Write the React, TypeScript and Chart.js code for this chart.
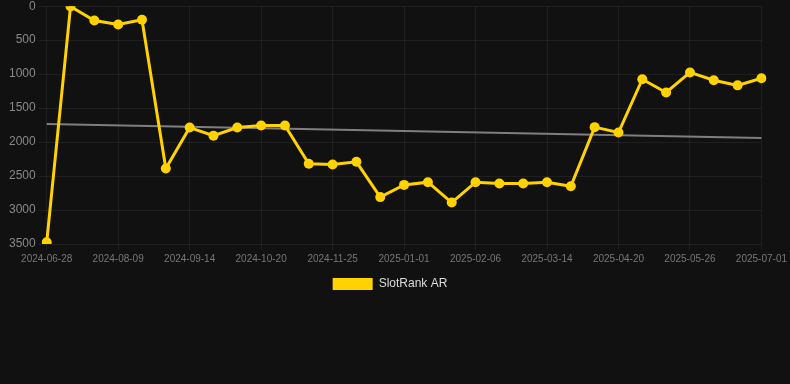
import React, { useEffect, useRef } from "react";
import { Chart, registerables } from "chart.js";

Chart.register(...registerables);

const labels: string[] = [
  "2024-06-28", "2024-07-12", "2024-07-26", "2024-08-09", "2024-08-21", "2024-09-02",
  "2024-09-14", "2024-09-26", "2024-10-08", "2024-10-20", "2024-11-01", "2024-11-13",
  "2024-11-25", "2024-12-07", "2024-12-19", "2025-01-01", "2025-01-13", "2025-01-25",
  "2025-02-06", "2025-02-18", "2025-03-02", "2025-03-14", "2025-03-26", "2025-04-08",
  "2025-04-20", "2025-05-02", "2025-05-14", "2025-05-26", "2025-06-07", "2025-06-19",
  "2025-07-01",
];

const slotRankAR: number[] = [
  3475, 5, 210, 270, 200, 2390, 1785, 1905, 1785, 1755, 1755, 2320,
  2330, 2290, 2810, 2630, 2590, 2890, 2590, 2610, 2610, 2590, 2650, 1780,
  1860, 1075, 1270, 975, 1090, 1165, 1060,
];

const trendStart = 1735;
const trendEnd = 1940;
const trendValues: (number | null)[] = labels.map((_, i) =>
  i === 0 ? trendStart : i === labels.length - 1 ? trendEnd : null
);

const yTicksMin = 0;
const yTicksMax = 3500;
const yStep = 500;

export default function App() {
  const ref = useRef<HTMLCanvasElement | null>(null);

  useEffect(() => {
    document.body.style.margin = "0";
    document.body.style.background = "#111111";
    Chart.defaults.font.family = "'Liberation Sans', Arial, Helvetica, sans-serif";
    const canvas = ref.current;
    if (!canvas) return;
    const yellow = "#FFD200";
    const chart = new Chart(canvas, {
      type: "line",
      data: {
        labels,
        datasets: [
          {
            label: "SlotRank AR",
            data: slotRankAR,
            borderColor: yellow,
            backgroundColor: yellow,
            borderWidth: 3,
            pointRadius: 5,
            pointBorderWidth: 0,
            pointBackgroundColor: yellow,
            tension: 0,
          },
          {
            label: "Trend",
            data: trendValues,
            borderColor: "rgba(140,140,140,0.9)",
            backgroundColor: "rgba(140,140,140,0.9)",
            borderWidth: 2,
            pointRadius: 0,
            spanGaps: true,
          },
        ],
      },
      options: {
        responsive: false,
        animation: false,
        maintainAspectRatio: false,
        layout: { padding: { left: 6, right: 16, top: 0, bottom: 0 } },
        plugins: {
          tooltip: { enabled: false },
          legend: {
            position: "bottom",
            labels: {
              color: "#dddddd",
              font: { size: 12 },
              boxWidth: 40,
              boxHeight: 12,
              filter: (item: any) => item.text === "SlotRank AR",
              generateLabels: (c: any) => {
                const items = Chart.defaults.plugins.legend.labels.generateLabels(c);
                return items.map((it: any) => ({ ...it, lineWidth: 0 }));
              },
            },
          },
        },
        scales: {
          x: {
            grid: { color: "rgba(255,255,255,0.06)", drawTicks: true, tickLength: 6 },
            border: { display: false },
            ticks: {
              color: "#777777",
              font: { size: 10 },
              maxRotation: 0,
              minRotation: 0,
              autoSkip: true,
              maxTicksLimit: 11,
            },
          },
          y: {
            reverse: true,
            min: yTicksMin,
            max: yTicksMax,
            grid: { color: "rgba(255,255,255,0.06)" },
            border: { display: false },
            ticks: {
              stepSize: yStep,
              color: "#888888",
              font: { size: 12 },
              callback: (v: any) => String(v),
            },
          },
        },
      },
    });
    return () => chart.destroy();
  }, []);

  return (
    <div style={{ width: 790, height: 384, background: "#111111", overflow: "hidden" }}>
      <canvas ref={ref} width={790} height={304} style={{ display: "block", marginTop: -4 }} />
    </div>
  );
}
